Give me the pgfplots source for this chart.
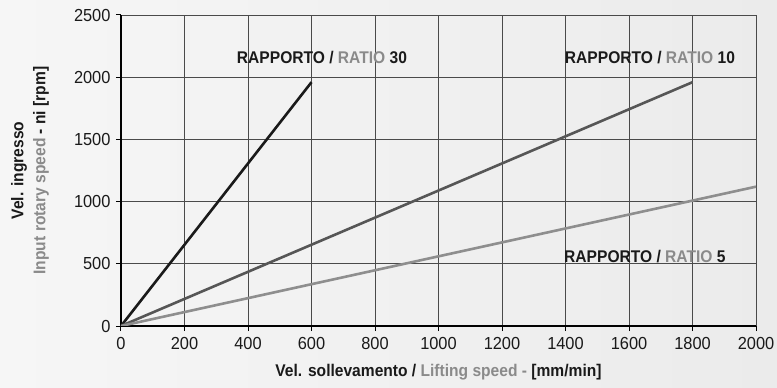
\documentclass[border=0pt]{standalone}
\usepackage{fontspec}
\setmainfont{Liberation Sans}
\newfontfamily\condfont{Liberation Sans}[FakeStretch=0.92]
\newfontfamily\tickfont{Liberation Sans}[FakeStretch=0.94]
\usepackage{pgfplots}
\pgfplotsset{compat=1.18}
\definecolor{bgl}{HTML}{F6F6F6}
\definecolor{bgr}{HTML}{EBEBEB}
\definecolor{gridc}{HTML}{4A4A4A}
\definecolor{darkt}{HTML}{1A1A1A}
\definecolor{ratiog}{HTML}{8A8A8A}
\definecolor{lthirty}{HTML}{1A1A1A}
\definecolor{lten}{HTML}{565656}
\definecolor{lfive}{HTML}{8E8E8E}
\newcommand{\lab}{\condfont\bfseries\fontsize{17}{19}\selectfont}
\begin{document}
\begin{tikzpicture}
\fill[left color=bgl,right color=bgr] (-121bp,-62bp) rectangle (656bp,326bp);
\begin{axis}[
  scale only axis, width=635bp, height=311bp,
  xmin=0, xmax=2000, ymin=0, ymax=2500,
  xtick={0,200,...,2000}, ytick={0,500,...,2500},
  axis lines=left, axis line style={-, line width=1.6bp, color=black},
  grid=major, major grid style={color=gridc, line width=0.8bp},
  tick align=outside, major tick length=5bp,
  tick style={color=black, line width=1bp},
  scaled ticks=false,
  /pgf/number format/1000 sep={},
  /pgf/number format/assume math mode=true,
  ticklabel style={font=\tickfont\fontsize{17.5}{18}\selectfont, text=darkt},
  yticklabel style={xshift=-2bp},
  xticklabel style={yshift=-3bp},
  clip=true,
]
\addplot[lthirty, line width=2.6bp] coordinates {(0,0) (600,1960)};
\addplot[lten, line width=2.6bp] coordinates {(0,0) (1800,1960)};
\addplot[lfive, line width=2.6bp] coordinates {(0,0) (2000,1120)};
\node[font=\lab, text=darkt] at (axis cs:633,2162) {RAPPORTO / \textcolor{ratiog}{RATIO} 30};
\node[font=\lab, text=darkt] at (axis cs:1666,2162) {RAPPORTO / \textcolor{ratiog}{RATIO} 10};
\node[font=\lab, text=darkt] at (axis cs:1650,560) {RAPPORTO / \textcolor{ratiog}{RATIO} 5};
\end{axis}
\node[font=\lab, text=darkt] at (317.5bp,-46bp) {Vel. sollevamento / \textcolor{ratiog}{Lifting speed -} [mm/min]};
\node[font=\lab, text=darkt, rotate=90] at (-102bp,155.5bp) {Vel. ingresso};
\node[font=\lab, text=darkt, rotate=90] at (-80bp,155.5bp) {\textcolor{ratiog}{Input rotary speed} - ni [rpm]};
\pgfresetboundingbox
\useasboundingbox (-121bp,-62bp) rectangle (656bp,326bp);
\end{tikzpicture}
\end{document}
